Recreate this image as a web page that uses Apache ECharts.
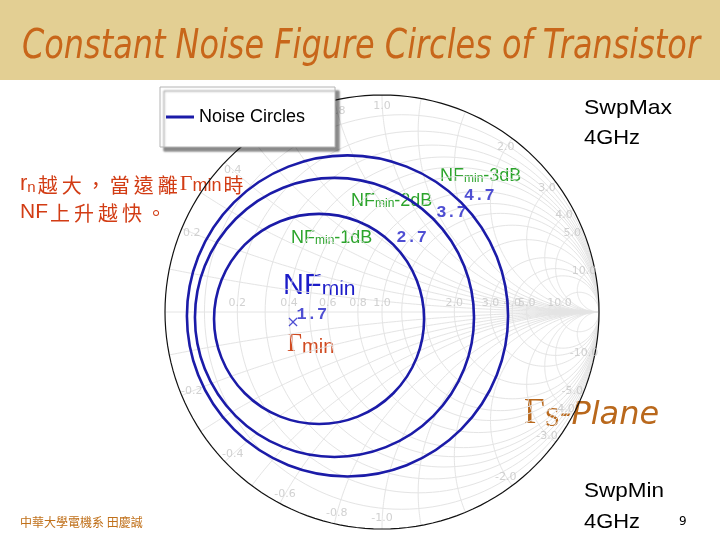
<!DOCTYPE html>
<html>
<head>
<meta charset="utf-8">
<script src="https://cdn.jsdelivr.net/npm/echarts@6/dist/echarts.min.js"></script>
<style>
  html, body { margin: 0; padding: 0; background: #fff; }
  #chart { width: 720px; height: 540px; }
</style>
</head>
<body>
<div id="chart"></div>
<script>
// noise circles on the source reflection plane
const nfValues = [2.7, 3.7, 4.7];
const circleCenters = [[-0.29, -0.032], [-0.219, -0.025], [-0.159, -0.018]];
const circleRadii = [0.484, 0.643, 0.74];
const gammaMin = [-0.41, -0.046];
const nfMin = 1.7;

// smith chart grid + its labels
const resistanceGrid = [0.1, 0.2, 0.3, 0.4, 0.5, 0.6, 0.8, 1, 1.2, 1.5, 2, 3, 4, 5, 10];
const reactanceGrid = [0.1, 0.2, 0.3, 0.4, 0.5, 0.6, 0.8, 1, 1.2, 1.5, 2, 3, 4, 5, 10];
const resistanceLabels = [0.2, 0.4, 0.6, 0.8, 1.0, 2.0, 3.0, 4.0, 5.0, 10.0];
const reactanceLabels = [0.2, 0.4, 0.6, 0.8, 1.0, 2.0, 3.0, 4.0, 5.0, 10.0, -0.2, -0.4, -0.6, -0.8, -1.0, -2.0, -3.0, -4.0, -5.0, -10.0];

const CIRCLE_BLUE = "#1b1ba8";
const GRID_GREY = "#e4e4e4";

const chart = echarts.init(document.getElementById("chart"));

function fitScale(text, font, width) {
  const ctx = document.createElement("canvas").getContext("2d");
  ctx.font = font;
  return width / ctx.measureText(text).width;
}
const cjk = (s, tag) => s.split("").map((ch) => `{${tag}|${ch}}`).join("");

// grid items: [kind, value]  0 = resistance circle, 1 = reactance arc, 2 = real axis, 3 = outer circle
const gridItems = resistanceGrid.map((r) => [0, r])
  .concat(reactanceGrid.flatMap((x) => [[1, x], [1, -x]]))
  .concat([[2, 0], [3, 0]]);

function renderGrid(params, api) {
  const kind = api.value(0);
  const v = api.value(1);
  const n = 160;
  const pts = [];
  if (kind === 0 || kind === 3) {
    const c = v / (1 + v), R = 1 / (1 + v);
    for (let i = 0; i <= n; i++) {
      const t = (2 * Math.PI * i) / n;
      pts.push(api.coord([c + R * Math.cos(t), R * Math.sin(t)]));
    }
  } else if (kind === 1) {
    const ax = Math.abs(v), s = Math.sign(v), R = 1 / ax;
    const t0 = -Math.PI / 2;
    let t1 = Math.atan2((ax * ax - 1) / (ax * (ax * ax + 1)), -2 / (ax * ax + 1));
    if (t1 > t0) t1 -= 2 * Math.PI;
    for (let i = 0; i <= n; i++) {
      const t = t0 + ((t1 - t0) * i) / n;
      pts.push(api.coord([1 + R * Math.cos(t), s * (R + R * Math.sin(t))]));
    }
  } else {
    pts.push(api.coord([-1, 0]), api.coord([1, 0]));
  }
  return {
    type: "polyline",
    shape: { points: pts },
    style: {
      fill: "none",
      stroke: kind === 3 ? "#111" : GRID_GREY,
      lineWidth: kind === 3 ? 1.2 : 1,
    },
    z2: kind === 3 ? 5 : 1,
  };
}

function renderCircle(params, api) {
  const p = api.coord([api.value(0), api.value(1)]);
  const r = api.size([api.value(2), 0])[0];
  return {
    type: "circle",
    shape: { cx: p[0], cy: p[1], r: r },
    style: { fill: "none", stroke: CIRCLE_BLUE, lineWidth: 2.6 },
  };
}

// label anchor for each circle: point at 45 degrees on the circle
const c45 = Math.SQRT1_2;
const nfLabelData = nfValues.map((v, i) => [
  circleCenters[i][0] + circleRadii[i] * c45,
  circleCenters[i][1] + circleRadii[i] * c45,
  v,
]);

const resLabelData = resistanceLabels.map((r) => [(r - 1) / (r + 1), 0, r]);
const reacLabelData = reactanceLabels.map((x) => {
  const d = x * x + 1;
  return [0.95 * (x * x - 1) / d, 0.95 * (2 * x) / d, x];
});

const xSymbol = "path://M0,1L1,0L5,4L9,0L10,1L6,5L10,9L9,10L5,6L1,10L0,9L4,5Z";

const titleText = "Constant Noise Figure Circles of Transistor";
const titleFont = 'italic 40px "DejaVu Sans"';
const swpFont = '21px "Liberation Sans"';

const option = {
  backgroundColor: "#ffffff",
  animation: false,
  grid: { left: 165, top: 95, width: 434, height: 434 },
  xAxis: { type: "value", min: -1, max: 1, show: false },
  yAxis: { type: "value", min: -1, max: 1, show: false },
  legend: {
    left: 160,
    top: 87,
    selectedMode: false,
    data: [{ name: "Noise Circles", icon: "rect" }],
    itemWidth: 28,
    itemHeight: 3,
    padding: [21, 30, 21, 6],
    backgroundColor: "#ffffff",
    borderColor: "#b4b4b4",
    borderWidth: 1,
    shadowColor: "rgba(0,0,0,0.45)",
    shadowBlur: 2,
    shadowOffsetX: 4,
    shadowOffsetY: 4,
    textStyle: { color: "#000", fontSize: 18, fontFamily: "Liberation Sans" },
  },
  series: [
    {
      type: "custom",
      name: "grid",
      renderItem: renderGrid,
      data: gridItems,
      silent: true,
      z: 1,
    },
    {
      type: "scatter",
      name: "gridLabels",
      symbolSize: 0,
      silent: true,
      data: resLabelData,
      label: {
        show: true,
        position: "top",
        distance: 3,
        color: "#c6c6c6",
        fontSize: 11,
        fontFamily: "DejaVu Sans",
        formatter: (p) => p.value[2].toFixed(1),
      },
      z: 2,
    },
    {
      type: "scatter",
      name: "reacLabels",
      symbolSize: 0,
      silent: true,
      data: reacLabelData,
      label: {
        show: true,
        position: "inside",
        color: "#c6c6c6",
        fontSize: 11,
        fontFamily: "DejaVu Sans",
        formatter: (p) => p.value[2].toFixed(1),
      },
      z: 2,
    },
    {
      type: "custom",
      name: "Noise Circles",
      renderItem: renderCircle,
      itemStyle: { color: CIRCLE_BLUE },
      data: circleCenters.map((c, i) => [c[0], c[1], circleRadii[i]]),
      z: 3,
    },
    {
      type: "scatter",
      name: "nfLabels",
      symbolSize: 0,
      silent: true,
      data: nfLabelData,
      label: {
        show: true,
        position: [3, 2],
        align: "left",
        verticalAlign: "bottom",
        color: "#2323c8",
        fontSize: 17,
        fontWeight: "bold",
        fontFamily: "Liberation Mono",
        formatter: (p) => p.value[2].toFixed(1),
      },
      z: 4,
    },
    {
      type: "scatter",
      name: "gammaMin",
      symbol: xSymbol,
      symbolSize: 9,
      itemStyle: { color: "#2323c8" },
      data: [[gammaMin[0], gammaMin[1], nfMin]],
      label: {
        show: true,
        position: [8, 6],
        align: "left",
        verticalAlign: "bottom",
        color: "#2323c8",
        fontSize: 17,
        fontWeight: "bold",
        fontFamily: "Liberation Mono",
        formatter: (p) => p.value[2].toFixed(1),
      },
      z: 4,
    },
  ],
  graphic: [
    { type: "rect", shape: { x: 0, y: 0, width: 720, height: 80 }, style: { fill: "#e3cf93" }, z: 0 },
    {
      type: "text",
      x: 22,
      y: 48,
      scaleX: fitScale(titleText, titleFont, 678),
      style: { text: titleText, font: titleFont, fill: "#c8661a", textVerticalAlign: "middle", verticalAlign: "middle" },
    },
    // remark in Chinese
    {
      type: "text",
      x: 20,
      y: 182,
      style: {
        text: "{r|r}{s|n}" + cjk("越大，當遠離", "c") + "{g|Γ}{s2|min}" + cjk("時", "c"),
        fill: "#d23c14",
        textVerticalAlign: "middle",
        verticalAlign: "middle",
        rich: {
          r: { fontFamily: "Liberation Sans", fontSize: 22, lineHeight: 26, verticalAlign: "bottom" },
          s: { fontFamily: "Liberation Sans", fontSize: 15, lineHeight: 14, verticalAlign: "bottom" },
          c: { fontFamily: "Noto Sans CJK TC", fontSize: 20, lineHeight: 26, padding: [0, 2, 0, 2], verticalAlign: "bottom" },
          g: { fontFamily: "Liberation Serif", fontSize: 22, lineHeight: 26, verticalAlign: "bottom" },
          s2: { fontFamily: "Liberation Sans", fontSize: 18, lineHeight: 16, verticalAlign: "bottom" },
        },
      },
    },
    {
      type: "text",
      x: 20,
      y: 210,
      style: {
        text: "{n|NF}" + cjk("上升越快。", "c"),
        fill: "#d23c14",
        textVerticalAlign: "middle",
        verticalAlign: "middle",
        rich: {
          n: { fontFamily: "Liberation Sans", fontSize: 21, lineHeight: 26, verticalAlign: "bottom" },
          c: { fontFamily: "Noto Sans CJK TC", fontSize: 20, lineHeight: 26, padding: [0, 2, 0, 2], verticalAlign: "bottom" },
        },
      },
    },
    // green circle annotations
    ...[["-3dB", 440, 185], ["-2dB", 351, 210], ["-1dB", 291, 247]].map((d) => ({
      type: "text",
      x: d[1],
      y: d[2],
      style: {
        text: "{a|NF}{b|min}{a|" + d[0] + "}",
        fill: "#2ca42c",
        textVerticalAlign: "bottom",
        verticalAlign: "bottom",
        rich: {
          a: { fontFamily: "Liberation Sans", fontSize: 18, lineHeight: 22, verticalAlign: "bottom" },
          b: { fontFamily: "Liberation Sans", fontSize: 12, lineHeight: 8, verticalAlign: "bottom" },
        },
      },
    })),
    {
      type: "text",
      x: 283,
      y: 300,
      style: {
        text: "{a|NF}{b|min}",
        fill: "#1c1cc8",
        textVerticalAlign: "bottom",
        verticalAlign: "bottom",
        rich: {
          a: { fontFamily: "Liberation Sans", fontSize: 29, lineHeight: 34, verticalAlign: "bottom" },
          b: { fontFamily: "Liberation Sans", fontSize: 21, lineHeight: 12, verticalAlign: "bottom" },
        },
      },
    },
    {
      type: "text",
      x: 287,
      y: 357,
      style: {
        text: "{a|Γ}{b|min}",
        fill: "#d04a20",
        textVerticalAlign: "bottom",
        verticalAlign: "bottom",
        rich: {
          a: { fontFamily: "Liberation Serif", fontSize: 26, lineHeight: 30, verticalAlign: "bottom" },
          b: { fontFamily: "Liberation Sans", fontSize: 20, lineHeight: 14, verticalAlign: "bottom" },
        },
      },
    },
    {
      type: "text",
      x: 524,
      y: 432,
      style: {
        text: "{a|Γ}{s|S}{p|-Plane}",
        fill: "#b9681c",
        textVerticalAlign: "bottom",
        verticalAlign: "bottom",
        rich: {
          a: { fontFamily: "Liberation Serif", fontSize: 36, lineHeight: 40, verticalAlign: "bottom" },
          s: { fontFamily: "Liberation Serif", fontSize: 27, lineHeight: 18, verticalAlign: "bottom" },
          p: { fontFamily: "DejaVu Sans", fontStyle: "italic", fontSize: 32, lineHeight: 40, verticalAlign: "bottom" },
        },
      },
    },
    // sweep annotations
    ...[["SwpMax", 108], ["4GHz", 138], ["SwpMin", 491], ["4GHz", 522]].map((d) => ({
      type: "text",
      x: 584,
      y: d[1],
      scaleX: d[0] === "4GHz" ? fitScale("4GHz", swpFont, 56) : fitScale(d[0], swpFont, d[0] === "SwpMax" ? 88 : 80),
      style: { text: d[0], font: swpFont, fill: "#000", textVerticalAlign: "middle", verticalAlign: "middle" },
    })),
    {
      type: "text",
      x: 20,
      y: 522,
      style: {
        text: "中華大學電機系 田慶誠",
        font: '12px "Noto Sans CJK TC"',
        fill: "#c0701a",
        textVerticalAlign: "middle",
        verticalAlign: "middle",
      },
    },
    {
      type: "text",
      x: 679,
      y: 522,
      style: { text: "9", font: '12px "DejaVu Sans"', fill: "#000", textVerticalAlign: "middle", verticalAlign: "middle" },
    },
  ],
};

chart.setOption(option);
</script>
</body>
</html>
